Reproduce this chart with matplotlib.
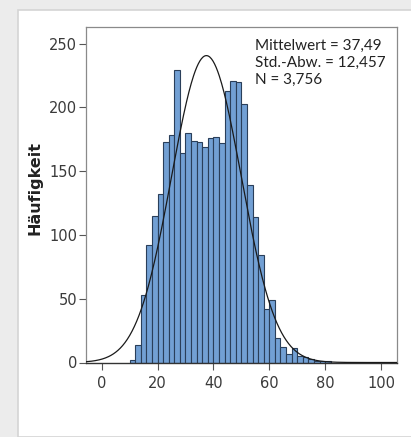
import numpy as np
import matplotlib
matplotlib.use("Agg")
import matplotlib.pyplot as plt
from matplotlib.patches import Rectangle

# histogram bins (width 2, starting at 10) and counts
bin_start = 10
bin_width = 2
counts = [2, 14, 53, 92, 115, 132, 173, 178, 229, 164, 180, 174, 173, 169,
          176, 177, 172, 213, 221, 220, 203, 139, 114, 84, 42, 49, 19, 12,
          7, 11, 5, 4, 3, 1, 1, 1]

# stats shown in the box
mean = 37.49
std = 12.457
n = 3756
stats_lines = ["Mittelwert = 37,49", "Std.-Abw. = 12,457", "N = 3,756"]

x_ticks = [0, 20, 40, 60, 80, 100]
y_ticks = [0, 50, 100, 150, 200, 250]

fig = plt.figure(figsize=(4.11, 4.37), dpi=100, facecolor="#ececec")
# white card with light shadow edge, kept behind the axes
card = Rectangle((18 / 411, 0), 1, 1 - 10 / 437, transform=fig.transFigure,
                 facecolor="white", edgecolor="#d4d4d4", linewidth=1.2, zorder=-10)
fig.add_artist(card)

ax = fig.add_axes([86 / 411, 74.5 / 437, 311 / 411, 335.5 / 437])
ax.set_zorder(1)
ax.patch.set_alpha(0)

lefts = bin_start + bin_width * np.arange(len(counts))
ax.bar(lefts, counts, width=bin_width, align="edge", color="#72a0d4",
       edgecolor="#2a3f5a", linewidth=0.8, zorder=2)

# fitted normal curve
xs = np.linspace(-5.6, 105.7, 400)
ys = n * bin_width / (std * np.sqrt(2 * np.pi)) * np.exp(-0.5 * ((xs - mean) / std) ** 2)
ax.plot(xs, ys, color="#1a1a1a", linewidth=0.9, zorder=3)

ax.set_xlim(-5.6, 105.7)
ax.set_ylim(0, 263)
ax.set_xticks(x_ticks)
ax.set_yticks(y_ticks)
ax.tick_params(labelsize=10.5, colors="#555555", labelcolor="#3a3a3a", length=5, width=0.8)
ax.tick_params(axis="y", pad=1.5)
ax.tick_params(axis="x", pad=5)
for side in ["left", "top", "right"]:
    ax.spines[side].set_color("#8a8a8a")
    ax.spines[side].set_linewidth(0.9)
ax.spines["bottom"].set_color("#333333")
ax.spines["bottom"].set_linewidth(1.0)

ax.set_ylabel("Häufigkeit", fontsize=11.5, fontweight="bold", color="#222222")
ax.yaxis.set_label_coords(-0.14, 0.52)

ax.text(0.545, 0.965, "\n".join(stats_lines), transform=ax.transAxes, ha="left", va="top",
        fontsize=11, family="Lato", color="#222222", linespacing=1.3)

fig.savefig("out.png", dpi=100, facecolor=fig.get_facecolor())
